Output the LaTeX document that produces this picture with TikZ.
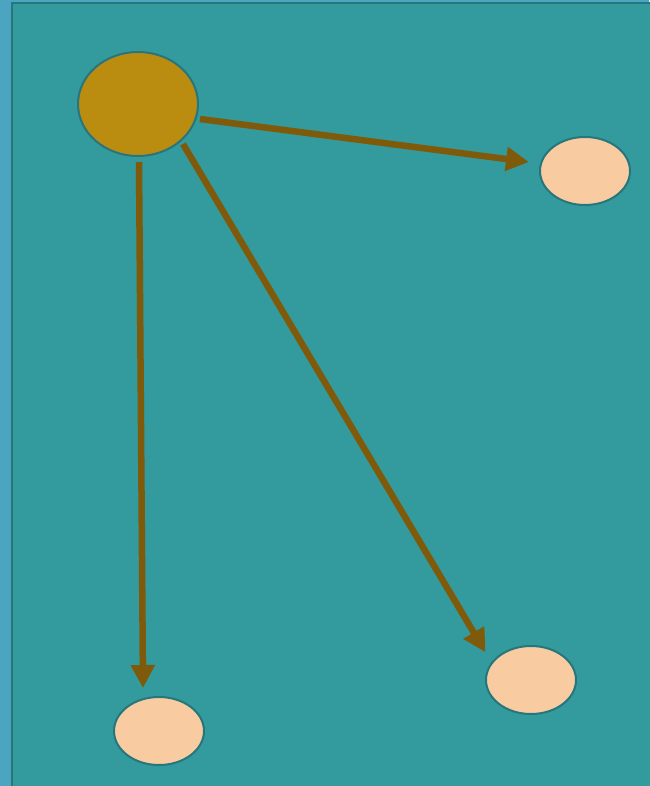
\documentclass[tikz,border=0pt]{standalone}
\usetikzlibrary{shapes.geometric,arrows.meta,calc}
\definecolor{stripblue}{RGB}{75,165,192}
\definecolor{panelteal}{RGB}{51,155,157}
\definecolor{frameteal}{RGB}{38,118,124}
\definecolor{hubgold}{RGB}{186,140,16}
\definecolor{leafpeach}{RGB}{248,204,160}
\definecolor{linkbrown}{RGB}{127,90,10}
\begin{document}
\begin{tikzpicture}[x=1pt,y=-1pt,
  hub/.style={ellipse,draw=frameteal,line width=2pt,fill=hubgold,
    minimum width=120pt,minimum height=104pt,inner sep=0pt},
  leaf/.style={ellipse,draw=frameteal,line width=2pt,fill=leafpeach,
    minimum width=90pt,minimum height=68pt,inner sep=0pt},
  link/.style={draw=linkbrown,line width=6.5pt,
    -{Triangle[length=23pt,width=23pt]}}]
  % page background and framed panel
  \fill[stripblue] (0,0) rectangle (649,786);
  \useasboundingbox (0,0) rectangle (649,786);
  \fill[panelteal,draw=frameteal,line width=2pt] (12,3) rectangle (660,800);
  % nodes
  \node[hub]  (hub) at (138,104) {};
  \node[leaf] (ne)  at (585,171) {};
  \node[leaf] (sw)  at (159,731) {};
  \node[leaf] (se)  at (531,680) {};
  % connectors
  \draw[link] ($(hub.east)+(1,15)$) -- ($(ne.west)+(-10,-9)$);
  \draw[link] ($(hub.south)+(1,5)$) -- ($(sw.north)+(-16,-8)$);
  \draw[link] ($(hub.center)+(45,40)$) -- ($(se.north west)+(-13,-3)$);
\end{tikzpicture}
\end{document}
